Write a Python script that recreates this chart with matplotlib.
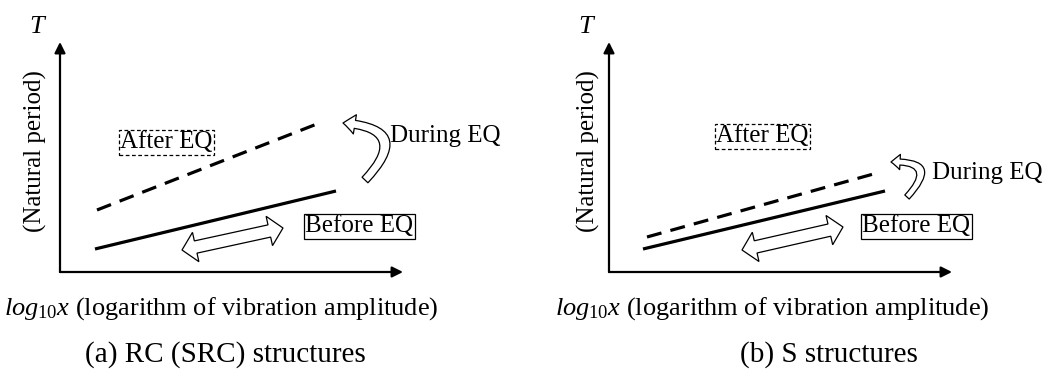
import numpy as np
import matplotlib.pyplot as plt
from matplotlib.patches import FancyArrowPatch, Polygon

plt.rcParams['font.family'] = ['Liberation Serif', 'DejaVu Serif']
plt.rcParams['mathtext.fontset'] = 'custom'
plt.rcParams['mathtext.it'] = 'Liberation Serif:italic'
plt.rcParams['mathtext.rm'] = 'Liberation Serif'

captions = ['(a) RC (SRC) structures', '(b) S structures']
x_label = r'$log_{10}x$ (logarithm of vibration amplitude)'
y_label = '(Natural period)'

# T vs log x, before and after the earthquake (schematic units)
before_x = [[3.5, 27.6], [3.4, 27.6]]
before_y = [[2.3, 8.1], [2.3, 8.1]]
after_x = [[3.7, 26.2], [3.8, 26.8]]
after_y = [[6.2, 15.0], [3.5, 9.9]]

# amplitude-dependent swing of T along the "before" line
swing_from = [(12.2, 2.2), (13.3, 2.2)]
swing_to = [(22.3, 4.4), (23.4, 4.5)]

# curved arrow: rise of T during the earthquake
during_from = [(30.5, 9.2), (29.8, 7.5)]
during_to = [(28.3, 14.9), (28.2, 11.0)]


def hollow_double_arrow(ax, p0, p1, body=1.25, head=3.0, head_len=1.4):
    p0, p1 = np.asarray(p0, float), np.asarray(p1, float)
    u = (p1 - p0) / np.hypot(*(p1 - p0))
    n = np.array([-u[1], u[0]])
    pts = [p0,
           p0 + u * head_len + n * head / 2,
           p0 + u * head_len + n * body / 2,
           p1 - u * head_len + n * body / 2,
           p1 - u * head_len + n * head / 2,
           p1,
           p1 - u * head_len - n * head / 2,
           p1 - u * head_len - n * body / 2,
           p0 + u * head_len - n * body / 2,
           p0 + u * head_len - n * head / 2]
    ax.add_patch(Polygon(pts, closed=True, fc='white', ec='black', lw=0.9,
                         clip_on=False))


fig = plt.figure(figsize=(10.47, 3.74), dpi=100)
W, H = 1047, 374
origins = [(60, 272), (609, 272)]
after_box = [(10.65, 12.95), (15.35, 13.55)]
before_box = [(29.9, 4.6), (30.75, 4.6)]
during_txt = [(33.0, 13.6), (32.3, 9.9)]
ylab_x = [-2.5, -2.1]
caption_x = [16.5, 22.0]
xlab_x = [16.1, 16.35]
arc_rad = [1.05, 1.2]
arc_size = [(5.8, 14.0, 8.6), (4.3, 11.0, 6.5)]

for i in range(2):
    ox, oy = origins[i]
    ax = fig.add_axes([ox / W, (H - oy) / H, 343 / W, 230 / H])
    ax.set_xlim(0, 34.3)
    ax.set_ylim(0, 23.0)
    ax.axis('off')

    # coordinate axes with arrow heads
    for tip in [(34.3, 0), (0, 23.0)]:
        ax.annotate('', xy=tip, xytext=(0, 0), annotation_clip=False,
                    arrowprops=dict(arrowstyle='-|>', lw=1.6, color='black',
                                    mutation_scale=16, shrinkA=0, shrinkB=0))

    ax.plot(before_x[i], before_y[i], color='black', lw=2.3,
            solid_capstyle='butt', clip_on=False)
    ax.plot(after_x[i], after_y[i], color='black', lw=2.3,
            dashes=(4.7, 2.9), dash_capstyle='butt', clip_on=False)

    hollow_double_arrow(ax, swing_from[i], swing_to[i])

    tw, hw, hl = arc_size[i]
    ax.add_patch(FancyArrowPatch(
        during_from[i], during_to[i],
        connectionstyle='arc3,rad=%.2f' % arc_rad[i],
        arrowstyle='simple,head_width=%.1f,head_length=%.1f,tail_width=%.1f'
                   % (hw, hl, tw),
        mutation_scale=1, fc='white', ec='black', lw=0.9,
        shrinkA=0, shrinkB=0, clip_on=False))

    ax.text(*after_box[i], 'After EQ', fontsize=18, ha='center', va='center',
            bbox=dict(boxstyle='square,pad=0.06', fc='white', ec='black',
                      lw=0.9, ls=(0, (3, 2))))
    ax.text(*before_box[i], 'Before EQ', fontsize=18, ha='center',
            va='center',
            bbox=dict(boxstyle='square,pad=0.06', fc='white', ec='black',
                      lw=0.9))
    ax.text(*during_txt[i], 'During EQ', fontsize=18, ha='left', va='center')

    ax.text(-2.3, 23.9, 'T', fontsize=19, style='italic', ha='center',
            va='baseline')
    ax.text(ylab_x[i], 12.1, y_label, fontsize=18, rotation=90,
            ha='center', va='center')
    ax.text(xlab_x[i], -4.3, x_label, fontsize=19, ha='center',
            va='baseline')
    ax.text(caption_x[i], -9.0, captions[i], fontsize=21, ha='center',
            va='baseline')

fig.savefig('out.png', dpi=100)
